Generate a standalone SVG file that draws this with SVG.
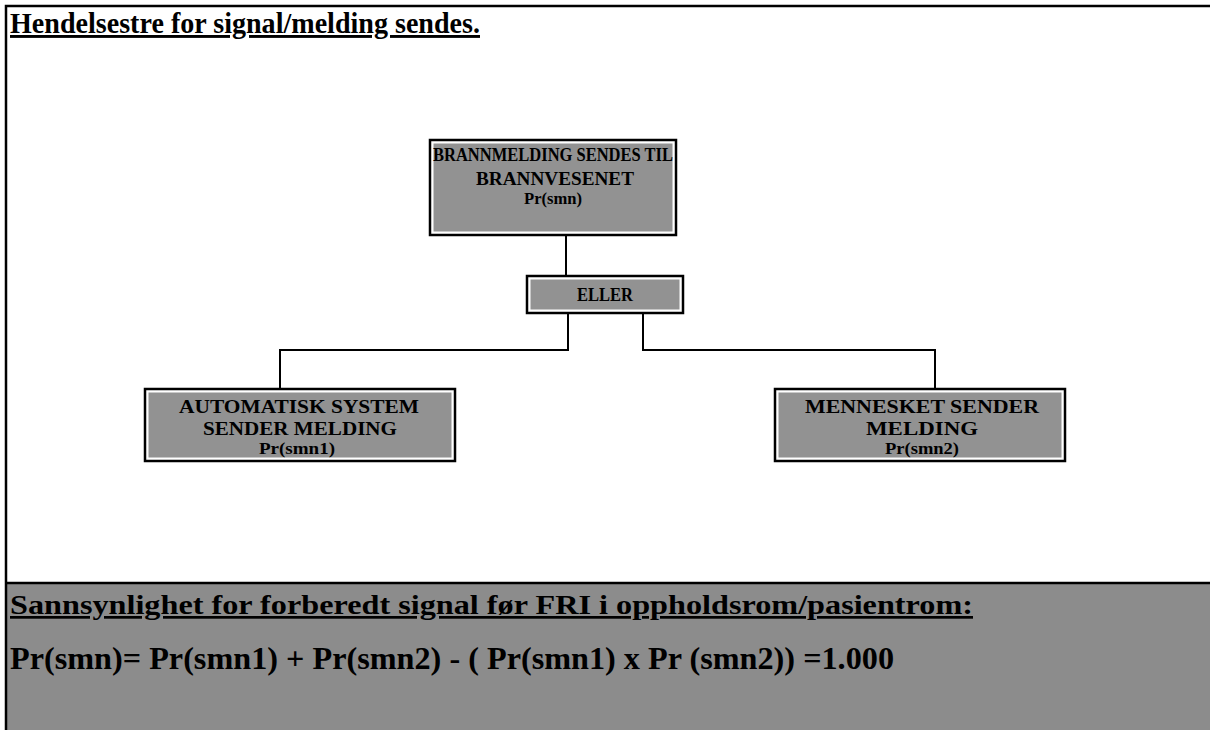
<svg xmlns="http://www.w3.org/2000/svg" width="1210" height="730" viewBox="0 0 1210 730">
  <defs>
    <style>
      .box-outer { fill: none; stroke: #000; stroke-width: 2.5; }
      .box-inner { fill: #929292; stroke: #fff; stroke-width: 1; }
      .lbl { font-family: "Liberation Serif", "Times New Roman", serif; font-weight: bold; font-size: 18px; fill: #000; text-anchor: middle; }
      .pr { font-size: 16px; }
      .conn { fill: none; stroke: #000; stroke-width: 2; }
      .head { font-family: "Liberation Serif", "Times New Roman", serif; font-weight: bold; fill: #000; }
    </style>
  </defs>

  <rect x="0" y="0" width="1210" height="730" fill="#fff"/>

  <!-- summary panel at the bottom -->
  <rect x="6" y="583" width="1204" height="147" fill="#8c8c8c"/>
  <line x1="6" y1="583" x2="1210" y2="583" stroke="#000" stroke-width="2.5"/>

  <!-- page frame -->
  <polyline points="6,730 6,6 1210,6" fill="none" stroke="#000" stroke-width="2.5"/>

  <!-- heading -->
  <text class="head" x="10" y="33" font-size="29" text-decoration="underline" textLength="470" lengthAdjust="spacingAndGlyphs">Hendelsestre for signal/melding sendes.</text>

  <!-- connectors -->
  <g id="connectors">
    <line class="conn" x1="566" y1="235" x2="566" y2="276"/>
    <polyline class="conn" points="568,313 568,350 280,350 280,389"/>
    <polyline class="conn" points="643,313 643,350 935,350 935,389"/>
  </g>

  <g id="top-event">
    <rect class="box-outer" x="430" y="140" width="246" height="95"/>
    <rect class="box-inner" x="433" y="143" width="240" height="89"/>
    <text class="lbl" x="553" y="161" textLength="240" lengthAdjust="spacingAndGlyphs">BRANNMELDING SENDES TIL</text>
    <text class="lbl" x="555" y="185" textLength="158" lengthAdjust="spacingAndGlyphs">BRANNVESENET</text>
    <text class="lbl pr" x="553" y="204" textLength="58" lengthAdjust="spacingAndGlyphs">Pr(smn)</text>
  </g>

  <g id="or-gate">
    <rect class="box-outer" x="527" y="276" width="156" height="37"/>
    <rect class="box-inner" x="530" y="279" width="150" height="31"/>
    <text class="lbl" x="605" y="301" textLength="56" lengthAdjust="spacingAndGlyphs">ELLER</text>
  </g>

  <g id="automatic-system">
    <rect class="box-outer" x="145" y="389" width="310" height="72"/>
    <rect class="box-inner" x="148" y="392" width="304" height="66"/>
    <text class="lbl" x="299" y="413" textLength="240" lengthAdjust="spacingAndGlyphs">AUTOMATISK SYSTEM</text>
    <text class="lbl" x="300" y="435" textLength="194" lengthAdjust="spacingAndGlyphs">SENDER MELDING</text>
    <text class="lbl pr" x="297" y="454" textLength="76" lengthAdjust="spacingAndGlyphs">Pr(smn1)</text>
  </g>

  <g id="person-sends">
    <rect class="box-outer" x="775" y="389" width="290" height="72"/>
    <rect class="box-inner" x="778" y="392" width="284" height="66"/>
    <text class="lbl" x="922" y="413" textLength="234" lengthAdjust="spacingAndGlyphs">MENNESKET SENDER</text>
    <text class="lbl" x="922" y="435" textLength="112" lengthAdjust="spacingAndGlyphs">MELDING</text>
    <text class="lbl pr" x="922" y="454" textLength="74" lengthAdjust="spacingAndGlyphs">Pr(smn2)</text>
  </g>

  <!-- probability summary -->
  <text class="head" x="10" y="614" font-size="27" text-decoration="underline" textLength="963" lengthAdjust="spacingAndGlyphs">Sannsynlighet for forberedt signal før FRI i oppholdsrom/pasientrom:</text>
  <text class="head" x="10" y="669" font-size="31" textLength="884" lengthAdjust="spacingAndGlyphs">Pr(smn)= Pr(smn1) + Pr(smn2) - ( Pr(smn1) x Pr (smn2)) =1.000</text>
</svg>
